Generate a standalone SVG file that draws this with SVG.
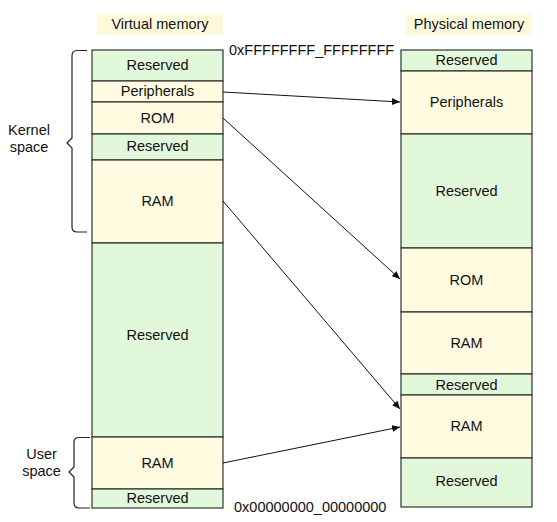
<svg xmlns="http://www.w3.org/2000/svg" width="557" height="522" viewBox="0 0 557 522">
<style>
text{font-family:"Liberation Sans",Arial,sans-serif;font-size:14.5px;fill:#111}
.c{text-anchor:middle}
.g{fill:#e2f8da;stroke:#333;stroke-width:1.2}
.y{fill:#fffbe0;stroke:#333;stroke-width:1.2}
.hdr{fill:#fff9dc}
.br{fill:none;stroke:#222;stroke-width:1.2}
.ar{fill:none;stroke:#111;stroke-width:1;marker-end:url(#ah)}
</style>
<defs>
<marker id="ah" markerWidth="8" markerHeight="7" refX="8" refY="3.5" orient="auto" markerUnits="userSpaceOnUse">
<path d="M0,0 L8,3.5 L0,7 Z" fill="#111"/>
</marker>
</defs>
<rect width="557" height="522" fill="#fff"/>
<g id="virtual-header"><rect class="hdr" x="97" y="14" width="126" height="21"/><text class="c" x="160" y="29">Virtual memory</text></g>
<g id="physical-header"><rect class="hdr" x="406" y="14" width="126" height="21"/><text class="c" x="469" y="29">Physical memory</text></g>
<g id="virtual">
<g id="v-reserved1"><rect class="g" x="92" y="50" width="131" height="31"/><text class="c" x="157.5" y="70">Reserved</text></g>
<g id="v-peripherals"><rect class="y" x="92" y="81" width="131" height="21"/><text class="c" x="157.5" y="96">Peripherals</text></g>
<g id="v-rom"><rect class="y" x="92" y="102" width="131" height="32"/><text class="c" x="157.5" y="123">ROM</text></g>
<g id="v-reserved2"><rect class="g" x="92" y="134" width="131" height="26"/><text class="c" x="157.5" y="151">Reserved</text></g>
<g id="v-ram-kernel"><rect class="y" x="92" y="160" width="131" height="83"/><text class="c" x="157.5" y="206">RAM</text></g>
<g id="v-reserved3"><rect class="g" x="92" y="243" width="131" height="194"/><text class="c" x="157.5" y="340">Reserved</text></g>
<g id="v-ram-user"><rect class="y" x="92" y="437" width="131" height="52"/><text class="c" x="157.5" y="468">RAM</text></g>
<g id="v-reserved4"><rect class="g" x="92" y="489" width="131" height="19"/><text class="c" x="157.5" y="503">Reserved</text></g>
</g>
<g id="physical">
<g id="p-reserved1"><rect class="g" x="401" y="50" width="131" height="21"/><text class="c" x="466.5" y="65">Reserved</text></g>
<g id="p-peripherals"><rect class="y" x="401" y="71" width="131" height="63"/><text class="c" x="466.5" y="107">Peripherals</text></g>
<g id="p-reserved2"><rect class="g" x="401" y="134" width="131" height="114"/><text class="c" x="466.5" y="196">Reserved</text></g>
<g id="p-rom"><rect class="y" x="401" y="248" width="131" height="64"/><text class="c" x="466.5" y="285">ROM</text></g>
<g id="p-ram1"><rect class="y" x="401" y="312" width="131" height="62"/><text class="c" x="466.5" y="348">RAM</text></g>
<g id="p-reserved3"><rect class="g" x="401" y="374" width="131" height="21"/><text class="c" x="466.5" y="390">Reserved</text></g>
<g id="p-ram2"><rect class="y" x="401" y="395" width="131" height="63"/><text class="c" x="466.5" y="431">RAM</text></g>
<g id="p-reserved4"><rect class="g" x="401" y="458" width="131" height="49"/><text class="c" x="466.5" y="486">Reserved</text></g>
</g>
<g id="addresses">
<text x="229" y="55">0xFFFFFFFF_FFFFFFFF</text>
<text x="234" y="512">0x00000000_00000000</text>
</g>
<g id="kernel-space">
<path class="br" d="M87,50.5 H77 Q72,50.5 72,56 V138 L67,143 L72,148 V227 Q72,232 77,232 H87"/>
<text class="c" x="29" y="135">Kernel</text>
<text class="c" x="29" y="152">space</text>
</g>
<g id="user-space">
<path class="br" d="M90,437.5 H79 Q74,437.5 74,442 V467 L69,472 L74,477 V503 Q74,508 79,508 H90"/>
<text class="c" x="41.5" y="459">User</text>
<text class="c" x="41.5" y="476">space</text>
</g>
<g id="connectors">
<line class="ar" x1="223" y1="92" x2="400" y2="102"/>
<line class="ar" x1="223" y1="118" x2="400" y2="279"/>
<line class="ar" x1="223" y1="201" x2="400" y2="409"/>
<line class="ar" x1="223" y1="463" x2="400" y2="427"/>
</g>
</svg>
